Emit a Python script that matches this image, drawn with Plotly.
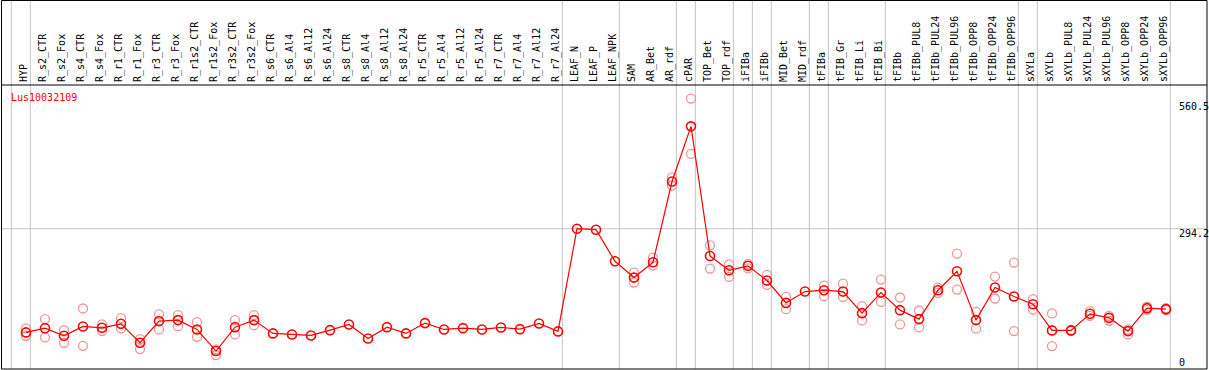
import plotly.graph_objects as go

categories = ["HYP", "R_s2_CTR", "R_s2_Fox", "R_s4_CTR", "R_s4_Fox", "R_r1_CTR", "R_r1_Fox",
              "R_r3_CTR", "R_r3_Fox", "R_r1s2_CTR", "R_r1s2_Fox", "R_r3s2_CTR", "R_r3s2_Fox",
              "R_s6_CTR", "R_s6_Al4", "R_s6_Al12", "R_s6_Al24", "R_s8_CTR", "R_s8_Al4",
              "R_s8_Al12", "R_s8_Al24", "R_r5_CTR", "R_r5_Al4", "R_r5_Al12", "R_r5_Al24",
              "R_r7_CTR", "R_r7_Al4", "R_r7_Al12", "R_r7_Al24", "LEAF_N", "LEAF_P", "LEAF_NPK",
              "SAM", "AR_Bet", "AR_rdf", "cPAR", "TOP_Bet", "TOP_rdf", "iFIBa", "iFIBb",
              "MID_Bet", "MID_rdf", "tFIBa", "tFIB_Gr", "tFIB_Li", "tFIB_Bi", "tFIBb",
              "tFIBb_PUL8", "tFIBb_PUL24", "tFIBb_PUL96", "tFIBb_OPP8", "tFIBb_OPP24",
              "tFIBb_OPP96", "sXYLa", "sXYLb", "sXYLb_PUL8", "sXYLb_PUL24", "sXYLb_PUL96",
              "sXYLb_OPP8", "sXYLb_OPP24", "sXYLb_OPP96"]

mean_values = [76.7, 85.7, 69.7, 89.2, 86.4, 94.8, 55.1, 100.4, 102.5, 82.9, 37.6, 87.8, 102.5,
               74.6, 72.5, 70.4, 81.5, 93.4, 64.1, 87.8, 74.6, 96.2, 82.9, 85.7, 82.9,
               87.1, 83.6, 95.5, 78.8, 294.2, 292.1, 225.8,
               191.7, 223.7, 393.1, 508.8, 237.0, 207.0, 216.4, 185.5,
               138.6, 162.4, 165.2, 162.4, 117.1, 160.3, 123.4,
               104.6, 165.2, 204.9, 102.5, 170.8,
               152.0, 135.9, 80.9, 80.9, 115.7, 107.3,
               79.5, 127.6, 125.5]

rep_a = [85.1, 104.5, 81.5, 126.9, 93.4, 106.6, 62.7, 114.4, 112.9, 98.3, 41.2, 102.5, 112.9,
         None, None, None, None, None, None, None, None, None, None, None, None,
         None, None, None, None, None, None, None,
         202.2, 233.6, 402.0, 567.0, 259.3, 219.6, 220.6, 197.2,
         151.2, None, 175.0, 179.2, 131.7, 187.6, 149.9,
         122.7, 170.8, 241.9, 119.8, 193.8,
         223.1, 146.4, 116.5, 82.0, 121.3, 111.5,
         83.0, 131.0, 127.5]

rep_b = [69.7, 66.3, 55.0, 48.7, 79.5, 85.1, 41.8, 83.0, 89.9, 67.5, 29.3, 72.6, 92.0,
         None, None, None, None, None, None, None, None, None, None, None, None,
         None, None, None, None, None, None, None,
         181.2, 216.8, 384.7, 451.0, 210.6, 193.0, 210.8, 176.3,
         125.5, None, 152.6, 151.2, 101.8, 140.7, 93.4,
         87.1, 159.6, 166.6, 85.1, 147.8,
         79.5, 124.8, 48.1, 80.0, 111.5, 101.0,
         72.6, 124.0, 123.5]

group_ends = [-1, 0, 28, 31, 34, 35, 37, 38, 39, 41, 42, 45, 52, 53, 60]
axis_labels = ["560.5", "294.2"]
axis_label_values = [560.5, 294.2]
gene_name = "Lus10032109"

W, H = 1209, 370
ML, MR, MT, MB = 2, 2, 85, 1
plot_w = W - ML - MR
plot_h = H - MT - MB
px_per_cat = 19.0
x0_px = 26
x_lo = -(x0_px - ML) / px_per_cat
x_hi = x_lo + plot_w / px_per_cat
units_per_px = 294.2 / 140.3
y_hi = plot_h * units_per_px
header_top = 1 + (MT - 0.5) / plot_h

idx = list(range(len(categories)))
rx, ry = [], []
for i in idx:
    for r in (rep_a[i], rep_b[i]):
        if r is not None:
            rx.append(i)
            ry.append(r)

fig = go.Figure()
fig.add_trace(go.Scatter(
    x=rx, y=ry, mode="markers",
    marker=dict(symbol="circle-open", size=9, color="rgb(238,150,150)", line=dict(width=1.3)),
    hoverinfo="skip", showlegend=False))
fig.add_trace(go.Scatter(
    x=idx, y=mean_values, mode="lines+markers",
    line=dict(color="#ff0000", width=1.2),
    marker=dict(symbol="circle-open", size=9, color="#ff0000", line=dict(width=1.6)),
    showlegend=False))

shapes = []
for g in group_ends:
    shapes.append(dict(type="line", xref="x", yref="paper", x0=g + 0.23, x1=g + 0.23,
                       y0=0, y1=header_top, line=dict(color="#c4c4c4", width=1), layer="below"))
shapes.append(dict(type="line", xref="paper", yref="y", x0=0, x1=1, y0=294.2, y1=294.2,
                   line=dict(color="#c4c4c4", width=1), layer="below"))
shapes.append(dict(type="rect", xref="paper", yref="paper", x0=-0.0004, x1=1, y0=0, y1=header_top,
                   line=dict(color="black", width=1)))
shapes.append(dict(type="line", xref="paper", yref="paper", x0=0, x1=1, y0=1, y1=1,
                   line=dict(color="black", width=1)))

annotations = []
lab_x = (1177 - ML) / plot_w
for t, v in zip(axis_labels, axis_label_values):
    annotations.append(dict(text=t, xref="paper", yref="y", x=lab_x, y=v, xanchor="left",
                            yanchor="top", yshift=3, showarrow=False,
                            font=dict(family="DejaVu Sans Mono", size=10, color="black")))
annotations.append(dict(text="0", xref="paper", yref="y", x=lab_x, y=0, xanchor="left",
                        yanchor="bottom", yshift=-1, showarrow=False,
                        font=dict(family="DejaVu Sans Mono", size=10, color="black")))
annotations.append(dict(text=gene_name, xref="paper", yref="paper", x=(9 - ML) / plot_w,
                        y=(369 - 97) / plot_h, xanchor="left", yanchor="middle", showarrow=False,
                        font=dict(family="DejaVu Sans Mono", size=10, color="#ff0000")))

fig.update_layout(
    width=W, height=H, margin=dict(l=ML, r=MR, t=MT, b=MB, pad=0, autoexpand=False),
    paper_bgcolor="white", plot_bgcolor="white",
    xaxis=dict(range=[x_lo, x_hi], side="top", tickmode="array", tickvals=idx,
               ticktext=categories, tickangle=-90, showgrid=False, zeroline=False,
               showline=False, ticks="", ticklabelstandoff=2, ticklabelshift=-2,
               automargin=False,
               tickfont=dict(family="DejaVu Sans Mono", size=10, color="black")),
    yaxis=dict(range=[0, y_hi], showgrid=False, zeroline=False, showticklabels=False,
               showline=False, ticks="", automargin=False),
    shapes=shapes, annotations=annotations,
)

fig.write_html("out.html", config={"displayModeBar": False},
               post_script="document.body.style.margin='0px';document.body.style.overflow='hidden';")
